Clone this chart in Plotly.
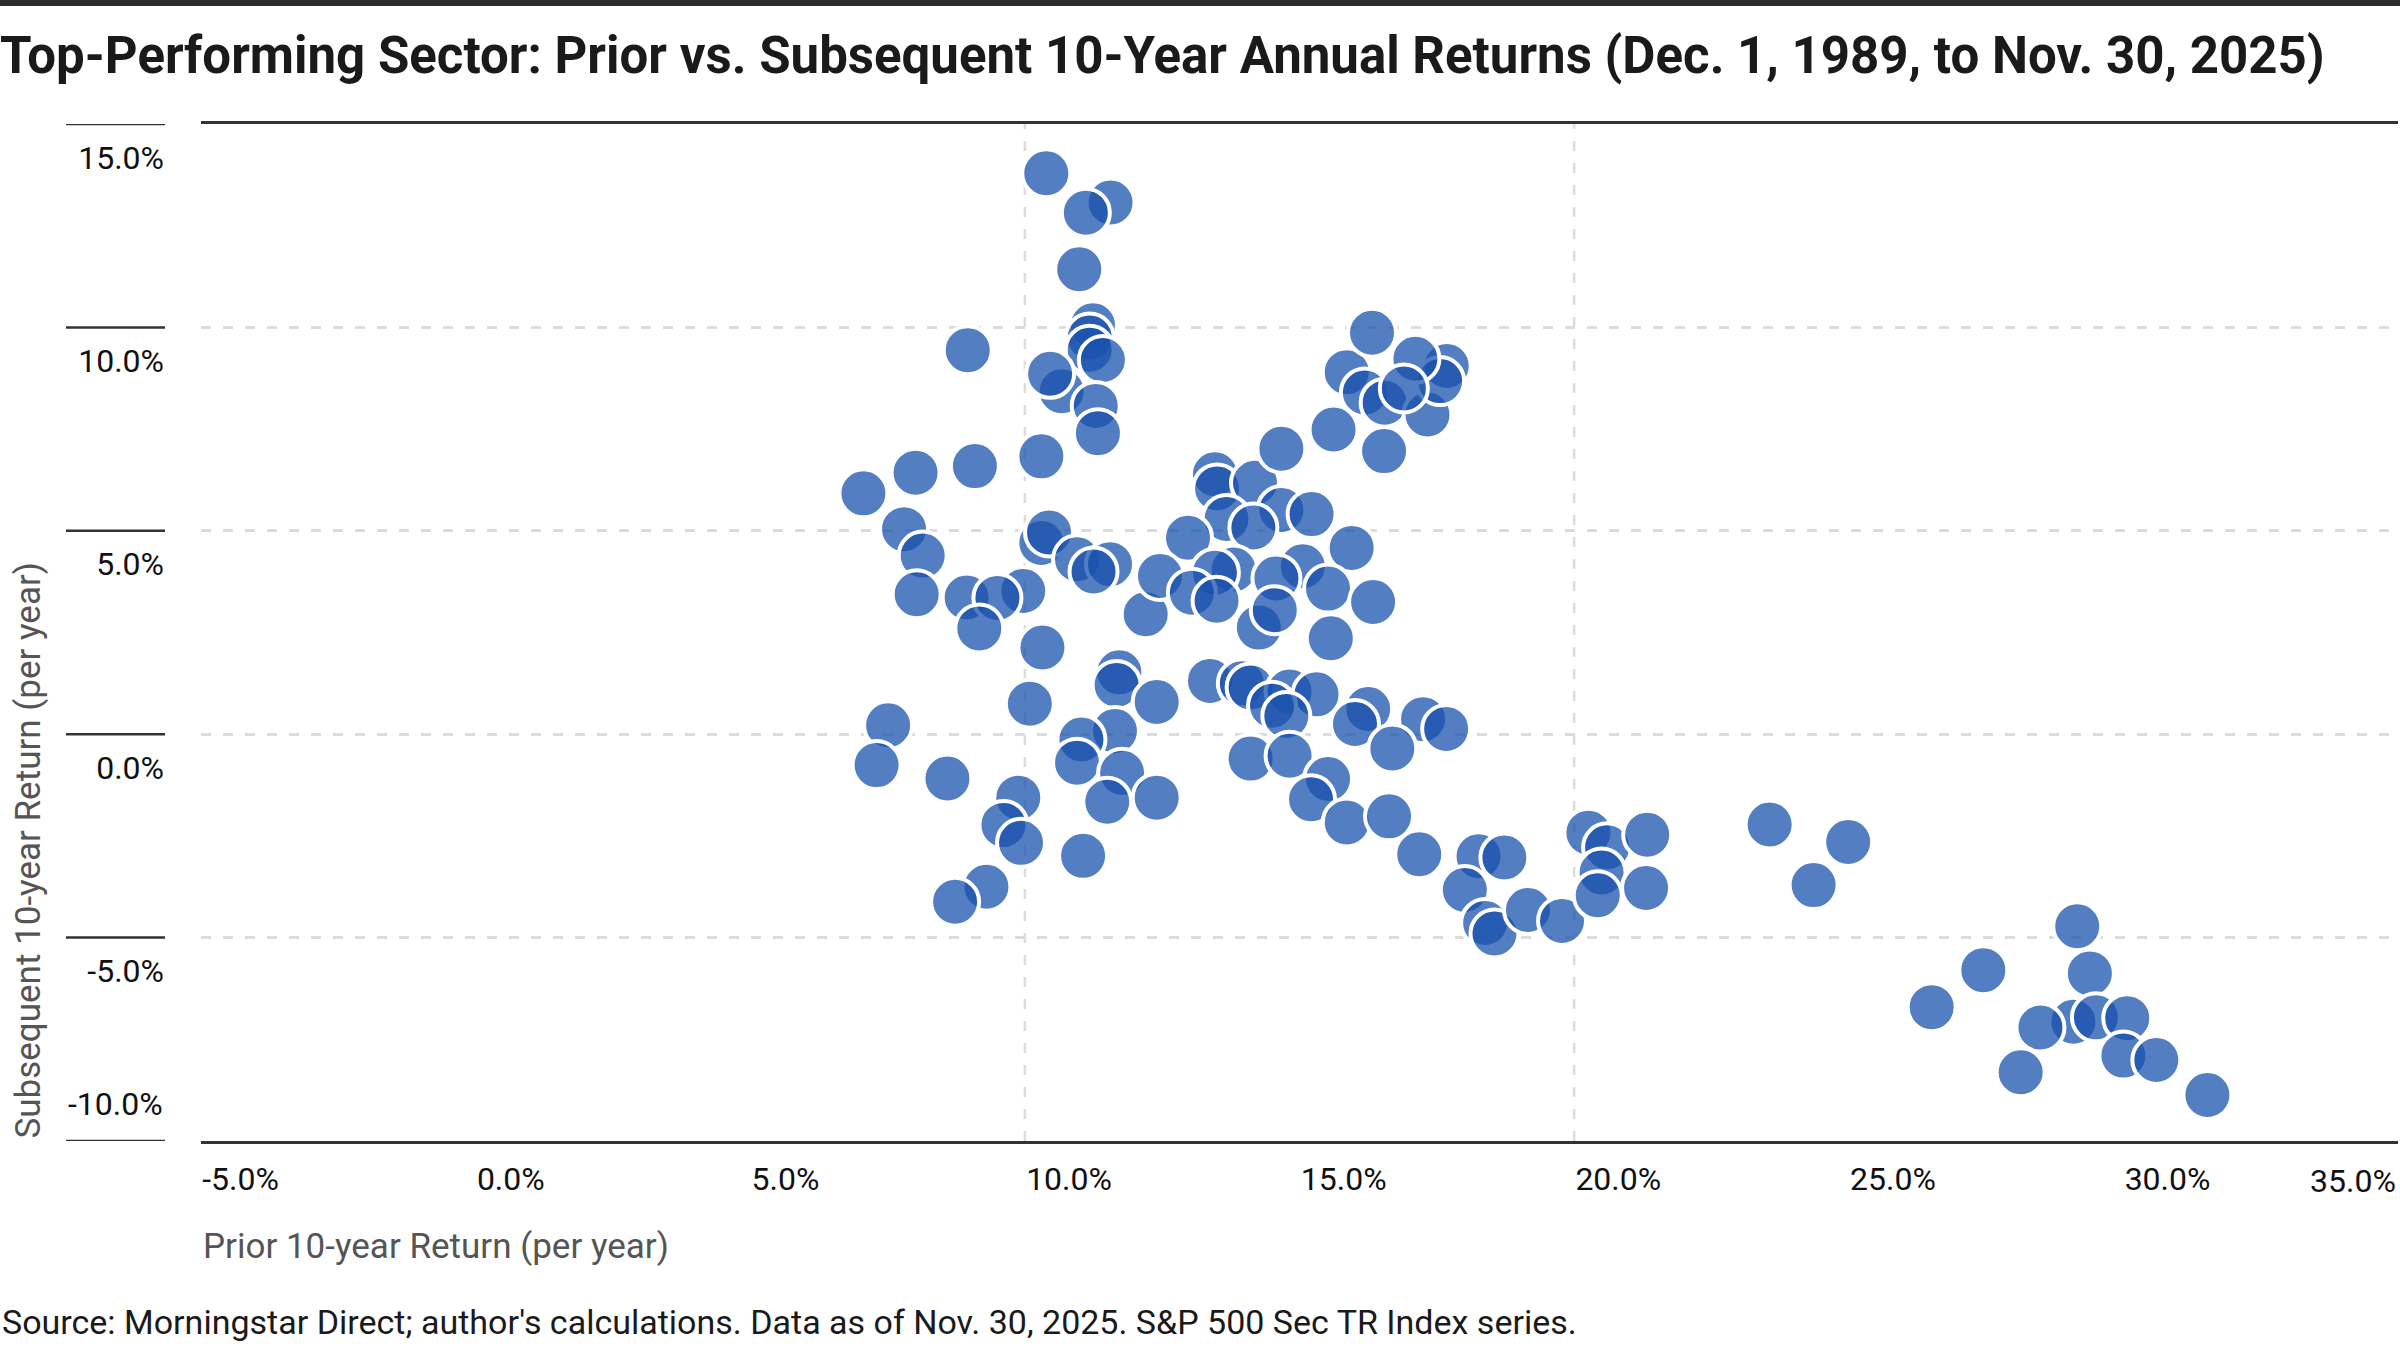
import plotly.graph_objects as go

# Prior 10-year annualized return (%) of the top-performing sector, and its subsequent 10-year annualized return (%)
prior_return = [
    11.56, 11.11, 10.39, 10.99, 8.96,
    11.24, 11.18, 11.18, 11.42, 10.67, 10.46, 11.29, 11.33,
    10.30, 9.09, 8.01, 7.06,
    7.80, 8.14, 8.03, 8.94, 9.97, 9.50, 9.17, 10.32, 10.09,
    10.30, 10.44, 10.95, 11.55, 11.25, 12.20,
    11.72, 11.67, 12.40, 11.64, 11.03, 10.95, 11.77, 11.50, 12.40,
    7.51, 7.30, 8.59, 9.88, 9.61, 9.93, 11.06, 9.30, 8.73,
    13.46, 13.50, 14.19, 14.67, 15.22, 13.67, 14.16, 12.97, 15.95, 15.06,
    13.80, 13.46, 12.46, 14.58, 13.04, 13.49, 15.52, 16.34, 14.26, 15.57, 14.55,
    13.37, 13.95, 14.11, 14.82, 15.31, 14.50, 14.76, 16.25, 16.01, 17.25, 17.67, 16.69,
    14.11, 14.82, 15.52, 15.21, 15.86, 16.63, 17.18,
    14.67, 15.62, 16.54, 15.86, 16.19, 16.55, 17.33, 17.68, 17.56, 17.11, 16.32, 16.90,
    18.26, 18.73, 18.01, 18.38, 18.55, 19.16, 19.78, 20.26, 20.60, 21.33, 20.50, 20.43, 21.31,
    23.56, 24.99, 24.36,
    29.16, 27.45, 26.51, 29.39, 29.09, 29.50, 28.49, 30.07, 28.13, 30.00, 30.60, 31.53,
]
subsequent_return = [
    13.07, 12.82, 13.79, 11.43, 9.44,
    10.05, 9.75, 9.45, 9.20, 8.43, 8.86, 8.07, 7.40,
    6.83, 6.59, 6.43, 5.92,
    5.04, 4.39, 3.44, 3.36, 3.52, 3.35, 2.60, 2.13, 0.75,
    4.70, 4.96, 4.30, 4.18, 4.00, 2.95,
    1.52, 1.21, 0.79, 0.08, -0.13, -0.70, -0.95, -1.66, -1.56,
    0.22, -0.76, -1.09, -1.56, -2.23, -2.67, -2.99, -3.75, -4.12,
    6.39, 6.04, 6.18, 5.51, 5.41, 5.29, 5.08, 4.83, 4.58, 4.13,
    4.05, 3.97, 3.89, 3.83, 3.48, 3.28, 3.58, 3.25, 2.62, 2.36, 3.05,
    1.31, 1.25, 1.15, 1.05, 0.98, 0.70, 0.45, 0.62, 0.25, 0.37, 0.13, -0.35,
    -0.60, -0.53, -1.10, -1.60, -2.17, -2.02, -2.95,
    7.02, 7.49, 6.96, 8.90, 8.40, 8.15, 7.86, 9.05, 8.68, 9.23, 9.87, 8.50,
    -3.00, -3.03, -3.83, -4.64, -4.90, -4.32, -4.59, -2.42, -2.78, -2.47, -3.40, -3.96, -3.78,
    -2.22, -2.65, -3.71,
    -4.72, -5.80, -6.71, -5.88, -7.07, -6.96, -7.21, -6.98, -8.31, -7.90, -8.01, -8.87,
]

x_tick_values = [-5, 0, 5, 10, 15, 20, 25, 30]
x_tick_labels = ["-5.0%", "0.0%", "5.0%", "10.0%", "15.0%", "20.0%", "25.0%", "30.0%"]
x_last_tick_value = 35
x_last_tick_label = "35.0%"
y_tick_values = [15, 10, 5, 0, -5]
y_tick_labels = ["15.0%", "10.0%", "5.0%", "0.0%", "-5.0%"]
y_last_tick_value = -10
y_last_tick_label = "-10.0%"
x_grid_values = [10, 20]

TITLE = "Top-Performing Sector: Prior vs. Subsequent 10-Year Annual Returns (Dec. 1, 1989, to Nov. 30, 2025)"
X_TITLE = "Prior 10-year Return (per year)"
Y_TITLE = "Subsequent 10-year Return (per year)"
SOURCE = "Source: Morningstar Direct; author's calculations. Data as of Nov. 30, 2025. S&P 500 Sec TR Index series."

FONT = "Roboto, Liberation Sans, Arial, sans-serif"
W, H = 2400, 1350
ML, MR, MT, MB = 201, 2, 124, 209
PW = W - ML - MR
PH = H - MT - MB
TICK_SIZE = 32

fig = go.Figure()
fig.add_trace(go.Scatter(
    x=prior_return, y=subsequent_return, mode="markers",
    marker=dict(size=48, color="rgba(24,81,173,0.74)", line=dict(color="white", width=4)),
    showlegend=False, hoverinfo="x+y",
))

shapes = []
# y tick marks to the left of the plot
for v in y_tick_values + [y_last_tick_value]:
    shapes.append(dict(type="line", xref="paper", yref="y",
                       x0=(66 - ML) / PW, x1=(165 - ML) / PW, y0=v, y1=v,
                       line=dict(color="#333333", width=2.5)))
# vertical dashed grid lines
for v in x_grid_values:
    shapes.append(dict(type="line", xref="x", yref="paper", x0=v, x1=v, y0=0, y1=1,
                       line=dict(color="#dcdcdc", width=2.5, dash="10px,12px"), layer="below"))
# top dark bar
shapes.append(dict(type="rect", xref="paper", yref="paper",
                   x0=-ML / PW - 0.01, x1=1.01, y0=(PH + MT - 6) / PH, y1=(PH + MT + 2) / PH,
                   fillcolor="#2b2b2b", line=dict(width=0)))

annotations = [
    dict(text=y_last_tick_label, xref="paper", yref="y", x=(165 - ML) / PW, y=y_last_tick_value,
         xanchor="right", yanchor="middle", yshift=37, showarrow=False,
         font=dict(family=FONT, size=TICK_SIZE, color="#111111")),
    dict(text=x_last_tick_label, xref="x", yref="paper", x=x_last_tick_value, y=0,
         xanchor="right", yanchor="middle", yshift=-40, showarrow=False,
         font=dict(family=FONT, size=TICK_SIZE, color="#111111")),
    dict(text=X_TITLE, xref="paper", yref="paper", x=0, y=(-1246 + MT + PH) / PH,
         xanchor="left", yanchor="middle", showarrow=False,
         font=dict(family=FONT, size=35, color="#555555")),
    dict(text=Y_TITLE, xref="paper", yref="paper", x=(28 - ML) / PW, y=0, textangle=-90,
         xanchor="center", yanchor="bottom", showarrow=False,
         font=dict(family=FONT, size=35, color="#555555")),
    dict(text=SOURCE, xref="paper", yref="paper", x=-ML / PW, y=(-1322 + MT + PH) / PH,
         xanchor="left", yanchor="middle", showarrow=False,
         font=dict(family=FONT, size=34, color="#1a1a1a")),
]

fig.update_layout(
    width=W, height=H,
    margin=dict(l=ML, r=MR, t=MT, b=MB, autoexpand=False),
    paper_bgcolor="white", plot_bgcolor="white",
    title=dict(text=TITLE, x=0.0, xref="container", xanchor="left",
               y=1 - 55 / H, yref="container", yanchor="middle",
               font=dict(family=FONT, size=51, color="#1a1a1a", weight=700)),
    xaxis=dict(range=[-5, 35], tickvals=x_tick_values, ticktext=x_tick_labels,
               ticklabelposition="outside right", ticks="", ticklabelstandoff=8,
               showgrid=False, zeroline=False, showline=True, mirror=True,
               linecolor="#333333", linewidth=2.5, automargin=False,
               tickfont=dict(family=FONT, size=TICK_SIZE, color="#111111")),
    yaxis=dict(range=[-10, 15], tickvals=y_tick_values, ticktext=y_tick_labels,
               ticklabelposition="outside bottom", ticks="", ticklabelstandoff=36,
               ticklabelshift=11,
               showgrid=True, gridcolor="#dcdcdc", gridwidth=2.5, griddash="10px,12px",
               zeroline=False, showline=False, automargin=False,
               tickfont=dict(family=FONT, size=TICK_SIZE, color="#111111")),
    shapes=shapes, annotations=annotations,
)

# remove the browser's default page margin so the figure sits flush with the window
fig.write_html("out.html", config={"displayModeBar": False},
               post_script="document.body.style.margin='0px';document.body.style.overflow='hidden';")
